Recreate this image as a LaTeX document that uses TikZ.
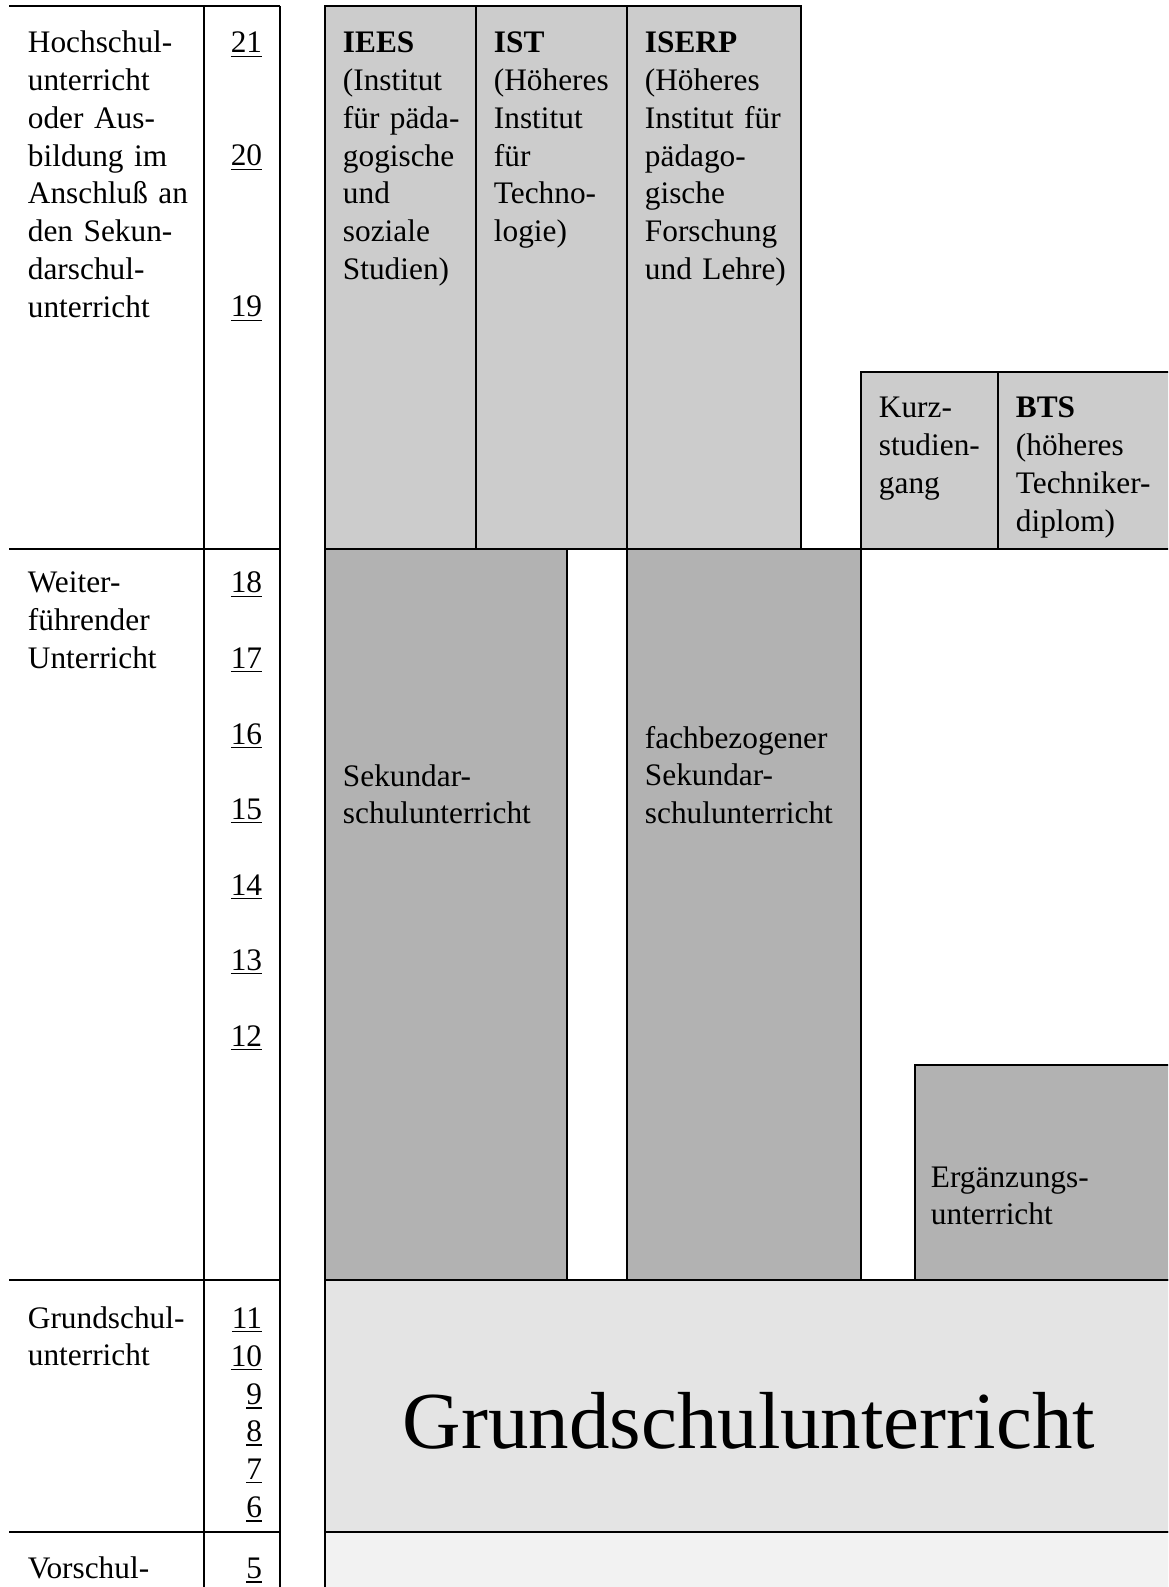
\documentclass[tikz,border=0pt]{standalone}
\usepackage{fontspec}
\setmainfont{Liberation Serif}
\usepackage{tikz}
\usetikzlibrary{%
  positioning
 ,calc
}
\definecolor{hsgray}{HTML}{CCCCCC}
\definecolor{sekgray}{HTML}{B2B2B2}
\definecolor{grgray}{HTML}{E4E4E4}
\definecolor{vsgray}{HTML}{F2F2F2}
\tikzstyle{plan}=[x=0.383pt,y=-0.383pt,line width=0.7pt]
\tikzstyle{txt}=[anchor=base west,inner sep=0pt,text width=80pt,align=left,font=\fontsize{12}{14.5}\selectfont]
\tikzstyle{num}=[anchor=base east,inner sep=0pt,font=\fontsize{12}{14.5}\selectfont]
\tikzstyle{hs}=[draw=black,fill=hsgray]
\tikzstyle{sek}=[draw=black,fill=sekgray]

\begin{document}
\begin{tikzpicture}[plan]
      \useasboundingbox (0,0) rectangle (1168,1587);
      \clip (0,0) rectangle (1168,1587);
      % Stufen links
      \foreach \y in {6,549,1280,1532}
        \draw (9,\y) -- (280,\y);
      \draw (204,6) -- (204,1600);
      \draw (280,6) -- (280,1600);
      \node[txt] (l_hoch) at (27,52.5) {Hochschul-\\unterricht\\oder Aus-\\bildung im\\Anschluß an\\den Sekun-\\darschul-\\unterricht};
      \node[txt] (l_weiter) at (27,592.5) {Weiter-\\führender\\Unterricht};
      \node[txt] (l_grund) at (27,1328) {Grundschul-\\unterricht};
      \node[txt] (l_vor) at (27,1578) {Vorschul-};
      \foreach \n/\y in {21/52.5,20/166,19/317,18/592.5,17/668,16/744,15/819,14/895,13/970,12/1046,
                         11/1328,10/1366,9/1404,8/1441,7/1479,6/1517,5/1578}
        \node[num] (n_\n) at (263,\y) {\underline{\n}};
      % Hochschulbereich
      \draw[hs] (325,6) rectangle (476,549);
      \draw[hs] (476,6) rectangle (627,549);
      \draw[hs] (627,6) rectangle (801,549);
      \draw[hs] (861,372) rectangle (998,549);
      \draw[hs] (998,372) rectangle (1180,549);
      \node[txt] (s_iees) at (342,52.5) {\textbf{IEES}\\(Institut\\für päda-\\gogische\\und\\soziale\\Studien)};
      \node[txt] (s_ist) at (493,52.5) {\textbf{IST}\\(Höheres\\Institut\\für\\Techno-\\logie)};
      \node[txt] (s_iserp) at (644,52.5) {\textbf{ISERP}\\(Höheres\\Institut für\\pädago-\\gische\\Forschung\\und Lehre)};
      \node[txt] (s_kurz) at (878,418) {Kurz-\\studien-\\gang};
      \node[txt] (s_bts) at (1015,418) {\textbf{BTS}\\(höheres\\Techniker-\\diplom)};
      % Sekundarbereich
      \draw[sek] (325,549) rectangle (567,1280);
      \draw[sek] (627,549) rectangle (861,1280);
      \draw[sek] (915,1065) rectangle (1180,1280);
      \node[txt] (s_sek) at (342,786) {Sekundar-\\schulunterricht};
      \node[txt] (s_fach) at (644,748) {fachbezogener\\Sekundar-\\schulunterricht};
      \node[txt] (s_erg) at (930,1187) {Ergänzungs-\\unterricht};
      % Grund- und Vorschule
      \draw[fill=grgray] (325,1280) rectangle (1180,1532);
      \draw[fill=vsgray] (325,1532) rectangle (1180,1600);
      \node[anchor=base,inner sep=0pt,font=\fontsize{31}{36}\selectfont] (s_grund) at (749,1448) {Grundschulunterricht};
    \end{tikzpicture}
\end{document}
